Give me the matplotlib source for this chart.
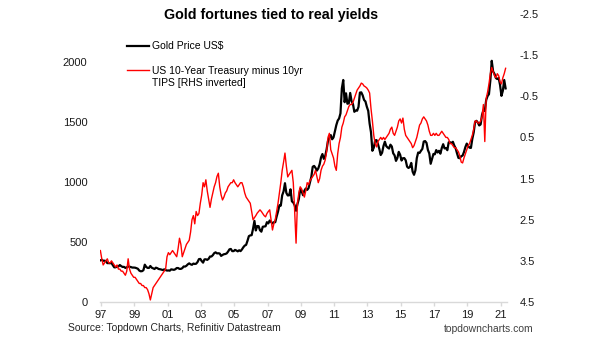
import numpy as np
import matplotlib
matplotlib.use("Agg")
import matplotlib.pyplot as plt
from matplotlib.lines import Line2D

plt.rcParams['font.family'] = ['Liberation Sans', 'DejaVu Sans']

# Monthly data, Feb 1997 .. Jun 2021
start_year = 1997 + 1 / 12.0

gold = [
    347, 352, 344, 344, 341, 324, 324, 323, 325, 306, 289,
    289, 297, 296, 308, 299, 292, 293, 284, 289, 296, 294, 291,
    287, 287, 286, 282, 277, 262, 256, 257, 265, 311, 293, 284,
    284, 300, 286, 280, 275, 286, 282, 275, 273, 270, 266, 272,
    266, 262, 263, 261, 272, 270, 268, 273, 283, 283, 276, 276,
    282, 296, 295, 302, 314, 322, 314, 310, 320, 317, 319, 333,
    357, 359, 341, 328, 355, 356, 351, 360, 379, 379, 390, 407,
    414, 405, 406, 404, 384, 392, 398, 400, 405, 420, 439, 442,
    424, 424, 434, 429, 422, 431, 424, 438, 456, 470, 476, 510,
    549, 555, 557, 610, 676, 596, 633, 632, 598, 586, 627, 629,
    631, 665, 655, 679, 667, 655, 665, 665, 712, 754, 806, 803,
    889, 922, 990, 909, 888, 889, 939, 839, 829, 806, 760, 816,
    858, 943, 924, 890, 928, 946, 934, 949, 996, 1043, 1127, 1134,
    1118, 1095, 1113, 1148, 1205, 1233, 1193, 1215, 1271, 1343, 1370, 1391,
    1356, 1372, 1424, 1474, 1512, 1529, 1572, 1780, 1850, 1665, 1739, 1652,
    1656, 1742, 1673, 1650, 1585, 1596, 1594, 1626, 1745, 1747, 1722, 1684,
    1671, 1627, 1593, 1487, 1414, 1260, 1286, 1347, 1349, 1316, 1275, 1225,
    1244, 1300, 1336, 1299, 1287, 1279, 1311, 1296, 1239, 1222, 1176, 1200,
    1251, 1227, 1179, 1198, 1199, 1181, 1128, 1117, 1125, 1159, 1086, 1060,
    1097, 1199, 1246, 1242, 1260, 1276, 1337, 1341, 1326, 1267, 1238, 1152,
    1192, 1234, 1231, 1266, 1246, 1260, 1236, 1283, 1315, 1280, 1283, 1265,
    1331, 1331, 1325, 1335, 1304, 1281, 1238, 1201, 1198, 1215, 1220, 1250,
    1291, 1320, 1300, 1286, 1284, 1359, 1413, 1500, 1510, 1495, 1471, 1480,
    1560, 1597, 1592, 1683, 1716, 1732, 1846, 2010, 1921, 1900, 1866, 1858,
    1867, 1808, 1718, 1760, 1850, 1780,
]

real_yield = [
    3.25, 3.45, 3.6, 3.55, 3.5, 3.45, 3.55, 3.55, 3.5, 3.55, 3.6,
    3.65, 3.6, 3.7, 3.7, 3.75, 3.75, 3.8, 3.85, 3.75, 3.45, 3.7, 3.8,
    3.85, 3.9, 3.9, 3.95, 4.0, 4.05, 4.05, 4.1, 4.1, 4.15, 4.15, 4.2,
    4.3, 4.45, 4.3, 4.15, 4.1, 4.05, 4.0, 3.95, 3.9, 3.85, 3.8, 3.75,
    3.7, 3.4, 3.3, 3.35, 3.3, 3.25, 3.3, 3.35, 3.4, 3.2, 2.95, 3.1,
    3.4, 3.3, 3.2, 3.1, 3.05, 3.0, 2.8, 2.5, 2.4, 2.6, 2.3, 2.4,
    2.35, 2.1, 1.9, 1.6, 1.7, 1.53, 1.8, 2.0, 2.2, 2.0, 1.85, 1.7,
    1.6, 1.45, 1.37, 1.7, 1.9, 2.02, 1.95, 1.85, 1.8, 1.7, 1.65, 1.6,
    1.6, 1.53, 1.6, 1.65, 1.7, 1.65, 1.6, 1.6, 1.7, 1.85, 1.95, 2.0,
    2.05, 2.1, 2.3, 2.5, 2.45, 2.4, 2.34, 2.3, 2.26, 2.3, 2.35, 2.4,
    2.43, 2.35, 2.3, 2.26, 2.5, 2.75, 2.6, 2.5, 2.3, 2.1, 1.85, 1.6,
    1.3, 1.1, 0.88, 1.2, 1.46, 1.4, 1.35, 1.3, 1.6, 2.3, 3.07, 2.1,
    1.85, 1.7, 1.75, 1.85, 1.95, 1.8, 1.6, 1.65, 1.55, 1.5, 1.45, 1.4,
    1.3, 1.45, 1.6, 1.5, 1.3, 1.2, 1.15, 1.05, 0.85, 0.5, 0.4, 0.8,
    0.9, 1.0, 1.2, 1.3, 0.9, 0.65, 0.5, 0.25, 0.15, 0.0, -0.05, -0.15,
    -0.25, -0.3, -0.3, -0.35, -0.45, -0.55, -0.65, -0.7, -0.75, -0.82, -0.8, -0.75,
    -0.73, -0.7, -0.65, -0.58, -0.2, 0.1, 0.45, 0.65, 0.73, 0.6, 0.55, 0.5,
    0.55, 0.5, 0.55, 0.5, 0.45, 0.4, 0.3, 0.25, 0.4, 0.45, 0.35, 0.25,
    0.1, 0.05, 0.15, 0.03, 0.3, 0.45, 0.5, 0.55, 0.6, 0.65, 0.75, 0.7,
    0.6, 0.5, 0.35, 0.2, 0.15, 0.05, 0.0, 0.05, 0.1, 0.2, 0.35, 0.45,
    0.45, 0.4, 0.45, 0.4, 0.45, 0.45, 0.4, 0.35, 0.4, 0.45, 0.5, 0.5,
    0.55, 0.65, 0.65, 0.7, 0.75, 0.75, 0.8, 0.85, 0.95, 1.1, 1.12, 1.0,
    0.9, 0.8, 0.7, 0.65, 0.55, 0.45, 0.3, 0.1, 0.1, 0.15, 0.15, 0.1,
    0.0, -0.3, 0.6, -0.45, -0.6, -0.8, -1.05, -1.2, -1.1, -1.0, -0.95, -1.05,
    -1.0, -0.85, -0.8, -0.95, -1.05, -1.18,
]

tick_years = list(range(1997, 2022, 2))
tick_labels = ["97", "99", "01", "03", "05", "07", "09", "11", "13", "15", "17", "19", "21"]
left_ticks = [0, 500, 1000, 1500, 2000]
right_ticks = [-2.5, -1.5, -0.5, 0.5, 1.5, 2.5, 3.5, 4.5]

x = start_year + np.arange(len(gold)) / 12.0

W, H = 605, 341
fig = plt.figure(figsize=(W / 100, H / 100), dpi=100)
ax = fig.add_axes([100 / W, 1 - 302 / H, 407 / W, 288 / H])
ax2 = ax.twinx()

ax.plot(x, gold, color='black', lw=1.6, label='Gold Price US$')
ax2.plot(x, real_yield, color='#ff0000', lw=1.0)

ax.set_xlim(1997.06, 2021.5)
ax.set_ylim(0, 2400)
ax2.set_ylim(4.5, -2.5)

ax.set_xticks([t + 0.12 for t in tick_years])
ax.set_xticklabels(tick_labels)
ax.set_yticks(left_ticks)
ax.set_yticklabels([str(v) for v in left_ticks])
ax2.set_yticks(right_ticks)
ax2.set_yticklabels([f"{v:.1f}" for v in right_ticks])

for a in (ax, ax2):
    for s in ('top', 'left', 'right', 'bottom'):
        a.spines[s].set_visible(False)
ax.spines['bottom'].set_visible(True)
ax.spines['bottom'].set_color('#d9d9d9')
ax.spines['bottom'].set_linewidth(1.0)

ax.tick_params(axis='x', direction='out', length=3, color='#d9d9d9', width=1,
               labelsize=8, labelcolor='#1a1a1a', pad=3)
ax.tick_params(axis='y', length=0, labelsize=8, labelcolor='#1a1a1a', pad=9)
ax2.tick_params(axis='y', length=0, labelsize=8, labelcolor='#1a1a1a', pad=9)

handles = [Line2D([], [], color='black', lw=1.6),
           Line2D([], [], color='none'),
           Line2D([], [], color='#ff0000', lw=1.0),
           Line2D([], [], color='none')]
labels = ['Gold Price US$', '', 'US 10-Year Treasury minus 10yr', 'TIPS [RHS inverted]']
leg = ax2.legend(handles, labels, loc='upper left', bbox_to_anchor=(0.066, 0.905),
                 frameon=False, fontsize=7.5, handlelength=2.1, handletextpad=0.3,
                 labelspacing=0.2, borderpad=0, borderaxespad=0)

fig.text(271 / W, 1 - 15 / H, 'Gold fortunes tied to real yields', ha='center', va='center',
         fontsize=10.3, fontweight='bold', color='black')
fig.text(68 / W, 1 - 328 / H, 'Source: Topdown Charts, Refinitiv Datastream', ha='left',
         va='center', fontsize=7.5, color='#262626')
fig.text(534 / W, 1 - 329 / H, 'topdowncharts.com', ha='right', va='center',
         fontsize=7.5, color='#404040')

fig.savefig('out.png', dpi=100)
